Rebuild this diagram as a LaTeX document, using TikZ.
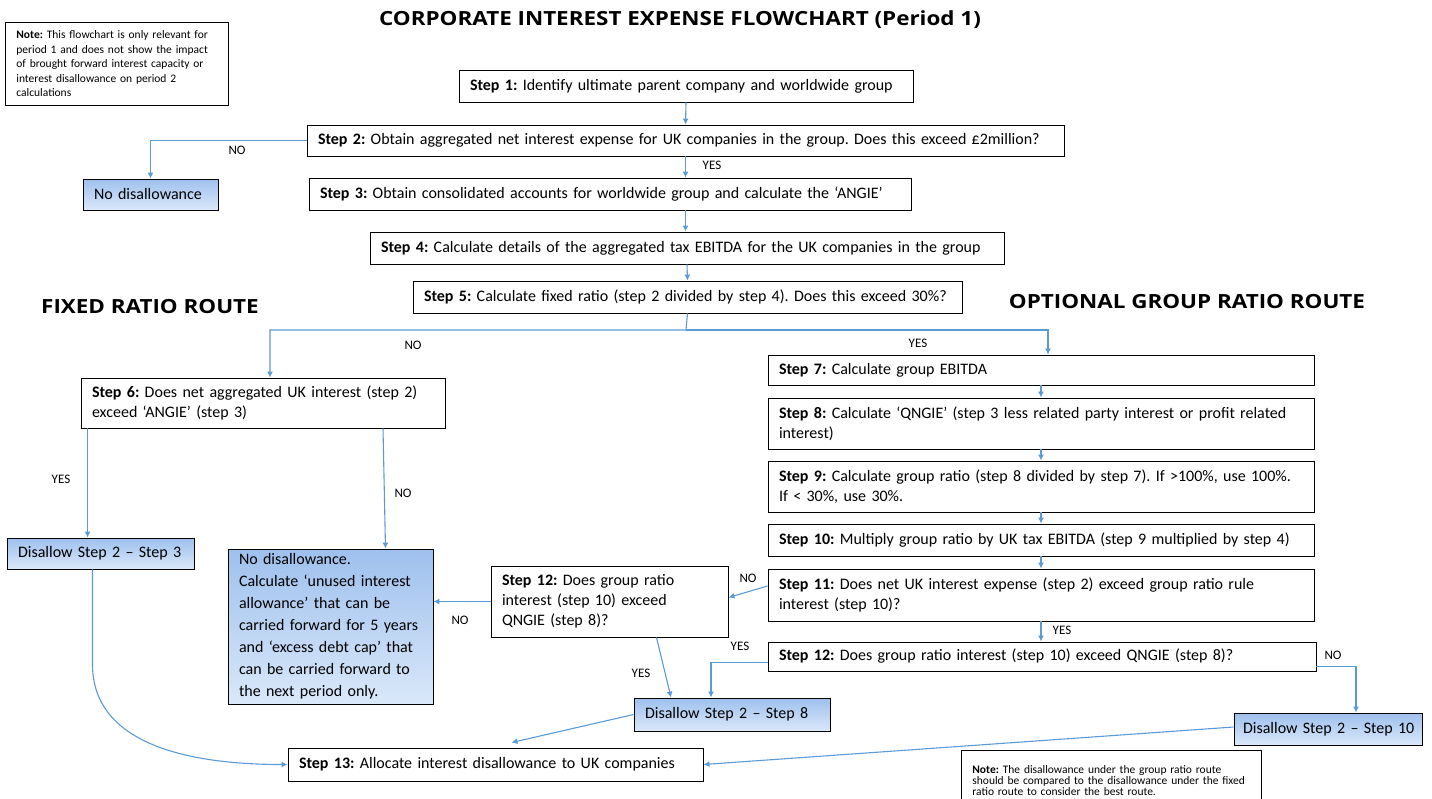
\documentclass[tikz,border=0pt]{standalone}
\usepackage{fontspec}
\setmainfont{Carlito}
\newfontfamily\headfont[FakeStretch=1.15]{Open Sans}
\usepackage{tikz}
\usetikzlibrary{arrows.meta, positioning, calc}
\definecolor{linkblue}{RGB}{91,155,213}
\definecolor{fillhi}{RGB}{158,192,237}
\definecolor{filllo}{RGB}{218,232,250}
\newcommand\stepno[1]{\textbf{Step #1:}}
\frenchspacing

\begin{document}
\begin{tikzpicture}
  [
    x=1pt, y=-1pt,
    Box/.style={draw=black, line width=0.9pt, fill=white, align=left, inner xsep=11pt, inner ysep=4pt, font=\fontsize{16}{20}\selectfont},
    Blue/.style={Box, top color=fillhi, bottom color=filllo},
    Note/.style={draw=black, line width=0.8pt, align=left, inner xsep=11pt, inner ysep=6pt, anchor=north west},
    Head/.style={font=\headfont\bfseries\fontsize{19.5}{24}\selectfont, inner sep=0pt},
    Lbl/.style={font=\fontsize{13}{15}\selectfont, inner sep=0pt},
    Link/.style={draw=linkblue, line width=1.1pt, -{Latex[length=6pt, width=6pt]}}
  ]
  \useasboundingbox (0,0) rectangle (1432,798);
  % Headings
  \node[Head] (title) at (680, 20) {CORPORATE INTEREST EXPENSE FLOWCHART (Period 1)};
  \node[Head] (fixed) at (150, 307) {FIXED RATIO ROUTE};
  \node[Head] (optional) at (1187, 302) {OPTIONAL GROUP RATIO ROUTE};
  \node[Note, text width=201pt, minimum height=83pt, font=\fontsize{11.5}{14.5}\selectfont] (note1) at (5, 22)
    {\textbf{Note:} This flowchart is only relevant for\\ period 1 and does not show the impact\\ of brought forward interest capacity or\\ interest disallowance on period 2\\ calculations};
  % Nodes
  \node[Box, text width=432pt, minimum height=32pt] (s1) at (686, 86) {\stepno{1} Identify ultimate parent company and worldwide group};
  \node[Box, text width=735pt, minimum height=31pt] (s2) at (685.5, 140.5) {\stepno{2} Obtain aggregated net interest expense for UK companies in the group. Does this exceed £2million?};
  \node[Box, text width=580pt, minimum height=32pt] (s3) at (610, 194) {\stepno{3} Obtain consolidated accounts for worldwide group and calculate the ‘ANGIE’};
  \node[Box, text width=612pt, minimum height=32pt] (s4) at (687, 248) {\stepno{4} Calculate details of the aggregated tax EBITDA for the UK companies in the group};
  \node[Box, text width=527pt, minimum height=32pt] (s5) at (687.5, 297) {\stepno{5} Calculate fixed ratio (step 2 divided by step 4). Does this exceed 30\%?};
  \node[Blue, text width=113pt, minimum height=31pt] (nodis1) at (150.5, 194.5) {No disallowance};
  % fixed ratio route
  \node[Box, text width=342pt, minimum height=50pt] (s6) at (263, 403) {\stepno{6} Does net aggregated UK interest (step 2)\\ exceed ‘ANGIE’ (step 3)};
  \node[Blue, text width=165pt, minimum height=31pt] (dis3) at (100.5, 553.5) {Disallow Step 2 – Step 3};
  \node[Blue, text width=183pt, minimum height=155pt, font=\fontsize{16}{22}\selectfont] (nodis2) at (330.5, 626.5)
    {No disallowance.\\ Calculate ‘unused interest\\ allowance’ that can be\\ \mbox{carried forward for 5 years}\\ and ‘excess debt cap’ that\\ can be carried forward to\\ the next period only.};
  % group ratio route
  \node[Box, text width=524pt, minimum height=30pt] (s7) at (1041, 370) {\stepno{7} Calculate group EBITDA};
  \node[Box, text width=524pt, minimum height=51pt] (s8) at (1041, 423.5) {\stepno{8} Calculate ‘QNGIE’ (step 3 less related party interest or profit related\\ interest)};
  \node[Box, text width=524pt, minimum height=51pt] (s9) at (1041, 486.5) {\stepno{9} Calculate group ratio (step 8 divided by step 7). If >100\%, use 100\%.\\ If < 30\%, use 30\%.};
  \node[Box, text width=524pt, minimum height=32pt] (s10) at (1041, 540) {\stepno{10} Multiply group ratio by UK tax EBITDA (step 9 multiplied by step 4)};
  \node[Box, text width=524pt, minimum height=52pt] (s11) at (1041, 595) {\stepno{11} Does net UK interest expense (step 2) exceed group ratio rule\\ interest (step 10)?};
  \node[Box, text width=526pt, minimum height=29pt] (s12r) at (1042, 656.5) {\stepno{12} Does group ratio interest (step 10) exceed QNGIE (step 8)?};
  \node[Box, text width=215pt, minimum height=71pt] (s12l) at (609.5, 601.5) {\stepno{12} Does group ratio\\ interest (step 10) exceed\\ QNGIE (step 8)?};
  \node[Blue, text width=174pt, minimum height=33pt] (dis8) at (732, 714.5) {Disallow Step 2 – Step 8};
  \node[Blue, text width=170pt, inner xsep=9pt, minimum height=32pt] (dis10) at (1328, 729) {\mbox{Disallow Step 2 – Step 10}};
  \node[Box, text width=393pt, minimum height=33pt] (s13) at (495.5, 764.5) {\stepno{13} Allocate interest disallowance to UK companies};
  \node[Note, text width=278pt, minimum height=60pt, inner ysep=3pt, font=\fontsize{11.5}{11}\selectfont] (note2) at (961, 750)
    {\textbf{Note:} The disallowance under the group ratio route\\ should be compared to the disallowance under the fixed\\ ratio route to consider the best route.};
  \coordinate (split) at (686, 330);
  % Labels
  \node[Lbl] (no1) at (237, 150) {NO};
  \node[Lbl] (yes1) at (712, 165) {YES};
  \node[Lbl] (no2) at (413, 345) {NO};
  \node[Lbl] (yes2) at (918, 343) {YES};
  \node[Lbl] (yes3) at (61, 479) {YES};
  \node[Lbl] (no3) at (403, 493) {NO};
  \node[Lbl] (no4) at (460, 620) {NO};
  \node[Lbl] (no5) at (748, 578) {NO};
  \node[Lbl] (yes4) at (641, 673) {YES};
  \node[Lbl] (yes5) at (740, 646) {YES};
  \node[Lbl] (yes6) at (1062, 630) {YES};
  \node[Lbl] (no6) at (1333, 655) {NO};
  % Lines
  \path [Link] (s1.south) -- (s2.north);
  \path [Link] (s2.west) -| (nodis1.north);
  \path [Link] (s2.south) -- (s2.south |- s3.north);
  \path [Link] (s2.south |- s3.south) -- (s2.south |- s4.north);
  \path [Link] (s4.south) -- (s5.north);
  \path [Link] (s5.south) -- (split) -| ([xshift=7pt]s6.north);
  \path [Link] (split) -| ([xshift=7pt]s7.north);
  \path [Link] ([xshift=7pt]s6.south west) -- ([xshift=7pt]s6.south west |- dis3.north);
  \path [Link] ([xshift=120pt]s6.south) -- ([xshift=55pt]nodis2.north);
  \path [Link] (s7.south) -- (s8.north);
  \path [Link] (s8.south) -- (s9.north);
  \path [Link] (s9.south) -- (s10.north);
  \path [Link] (s10.south) -- (s11.north);
  \path [Link] (s11.south) -- (s11.south |- s12r.north);
  \path [Link] ([yshift=9pt]s11.west) -- ([yshift=4pt]s12l.east);
  \path [Link] (s12l.west) -- (s12l.west -| nodis2.east);
  \path [Link] ([xshift=47pt]s12l.south) -- ([xshift=-61pt]dis8.north);
  \path [Link] ([yshift=-6pt]s12r.west) -| ([xshift=-21pt]dis8.north);
  \path [Link] ([yshift=-10pt]s12r.east) -| ([xshift=28pt]dis10.north);
  \path [Link] (dis8.west) -- ([xshift=16pt, yshift=5pt]s13.north);
  \path [Link] ([yshift=2pt]dis10.west) -- (s13.east);
  \path [Link] ([xshift=-8pt]dis3.south) -- ++(0, 95) .. controls +(0, 75) and +(-110, 0) .. (s13.west);
\end{tikzpicture}
\end{document}
